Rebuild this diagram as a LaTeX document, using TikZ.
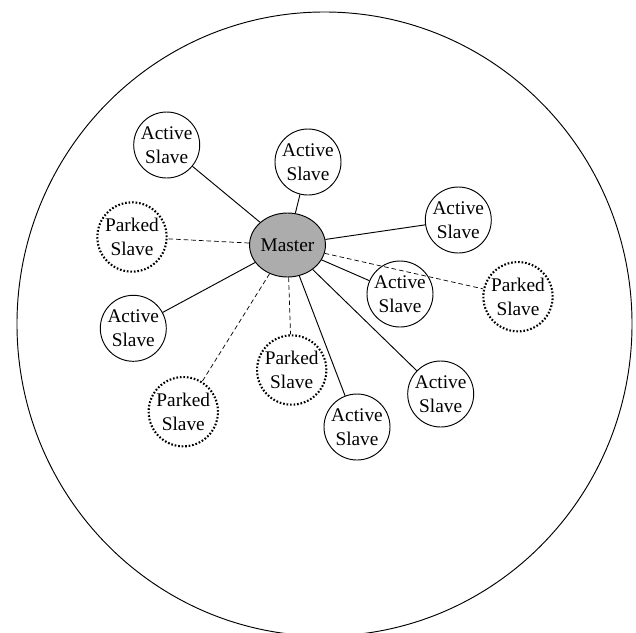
\documentclass[tikz,border=0pt]{standalone}
\usepackage{fontspec}
\setmainfont{Liberation Serif}
\usetikzlibrary{shapes.geometric}

\begin{document}
\begin{tikzpicture}[x=0.03cm,y=-0.03cm, font=\fontsize{16.5}{20}\selectfont,
  active/.style={circle, draw, line width=0.8pt, minimum size=1.98cm, inner sep=0pt, align=center},
  parked/.style={circle, draw, line width=1.8pt, dash pattern=on 1.4pt off 1.6pt, minimum size=2.08cm, inner sep=0pt, align=center},
  link/.style={line width=0.8pt},
  parklink/.style={line width=0.6pt, dash pattern=on 4pt off 2.5pt}]

\useasboundingbox (0,0) rectangle (636,632);
\draw[line width=0.8pt] (324.5,324) ellipse [x radius=9.225cm, y radius=9.36cm];

\node[ellipse, draw, fill=gray!65, line width=0.8pt, minimum width=2.22cm, minimum height=1.92cm, inner sep=0pt] (master) at (287.5,245) {Master};

\node[active] (a1) at (166.7,145) {Active\\Slave};
\node[active] (a2) at (308,162) {Active\\Slave};
\node[active] (a3) at (458.3,220) {Active\\Slave};
\node[active] (a4) at (400,294) {Active\\Slave};
\node[active] (a5) at (133.3,328.3) {Active\\Slave};
\node[active] (a6) at (357,427) {Active\\Slave};
\node[active] (a7) at (440.7,394) {Active\\Slave};

\node[parked] (p1) at (132,237) {Parked\\Slave};
\node[parked] (p2) at (518,296.7) {Parked\\Slave};
\node[parked] (p3) at (291.7,370) {Parked\\Slave};
\node[parked] (p4) at (183.3,411.7) {Parked\\Slave};

\foreach \s in {a1,a2,a3,a4,a5,a6,a7}
  \draw[link] (master) -- (\s);
\foreach \s in {p1,p2,p3,p4}
  \draw[parklink] (master) -- (\s);

\end{tikzpicture}
\end{document}
